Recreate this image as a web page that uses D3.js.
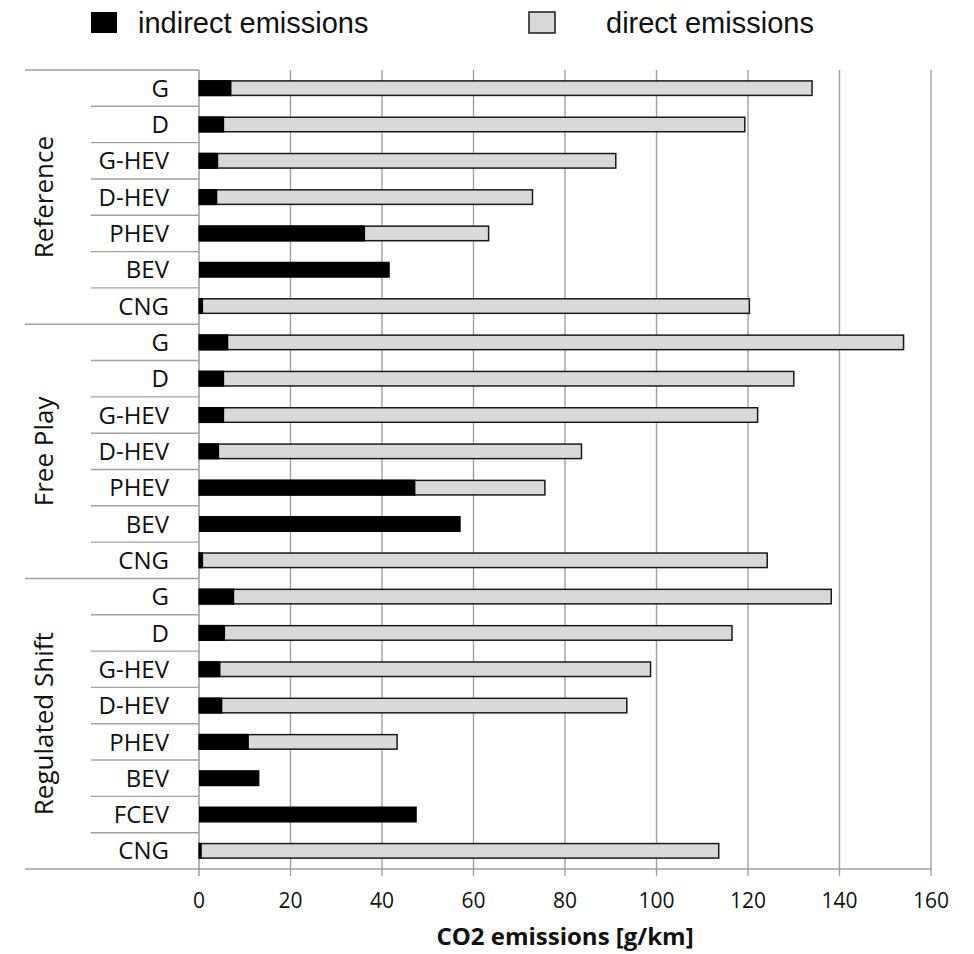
<!DOCTYPE html>
<html>
<head>
<meta charset="utf-8">
<script src="https://cdn.jsdelivr.net/npm/d3@7"></script>
<style>
  body { margin: 0; background: #fff; }
  svg { display: block; }
  .cat { font-family: "Open Sans", sans-serif; font-size: 24px; fill: #111; }
  .grp { font-family: "Open Sans", sans-serif; font-size: 26px; fill: #111; }
  .tick-label { font-family: "Open Sans", sans-serif; font-size: 21px; fill: #111; }
  .axis-title { font-family: "Open Sans", sans-serif; font-size: 24px; font-weight: bold; fill: #111; }
  .legend-text { font-family: "Liberation Sans", Arial, sans-serif; font-size: 29px; fill: #111; }
</style>
</head>
<body>
<div id="chart"></div>
<script>
// scenarios and vehicles (top to bottom)
const groups = ["Reference", "Free Play", "Regulated Shift"];
const refVehicles = ["G", "D", "G-HEV", "D-HEV", "PHEV", "BEV", "CNG"];
const freeVehicles = ["G", "D", "G-HEV", "D-HEV", "PHEV", "BEV", "CNG"];
const regVehicles = ["G", "D", "G-HEV", "D-HEV", "PHEV", "BEV", "FCEV", "CNG"];

// indirect emissions, g/km
const refIndirect = [7.1, 5.5, 4.2, 4.0, 36.3, 41.7, 0.9];
const freeIndirect = [6.4, 5.5, 5.5, 4.4, 47.3, 57.2, 0.9];
const regIndirect = [7.7, 5.7, 4.7, 5.1, 10.9, 13.2, 47.6, 0.6];

// direct emissions, g/km
const refDirect = [126.9, 113.8, 86.9, 68.9, 27.0, 0, 119.4];
const freeDirect = [147.6, 124.5, 116.6, 79.2, 28.3, 0, 123.3];
const regDirect = [130.5, 110.8, 94.0, 88.4, 32.4, 0, 0, 113.0];

const xTicks = [0, 20, 40, 60, 80, 100, 120, 140, 160];

const width = 974, height = 954;
const margin = { top: 70, right: 43, bottom: 85, left: 199 };

const vehicleLists = [refVehicles, freeVehicles, regVehicles];
const indirectLists = [refIndirect, freeIndirect, regIndirect];
const directLists = [refDirect, freeDirect, regDirect];

// flat rows
const rows = [];
vehicleLists.forEach((list, g) => {
	list.forEach((v, i) => {
		rows.push({
			key: g + "-" + v,
			group: g,
			vehicle: v,
			first: i === 0,
			indirect: indirectLists[g][i],
			direct: directLists[g][i]
		});
	});
});

const svg = d3.select("#chart").append("svg")
	.attr("width", width)
	.attr("height", height);

const x = d3.scaleLinear()
	.domain([0, 160])
	.range([margin.left, width - margin.right]);

const y = d3.scaleBand()
	.domain(rows.map(d => d.key))
	.range([margin.top, height - margin.bottom])
	.paddingInner(0)
	.paddingOuter(0);

const plotBottom = height - margin.bottom;
const lineColor = "#a0a0a0";

// vertical grid lines + ticks below
svg.append("g")
	.selectAll("line")
	.data(xTicks.slice(1))
	.join("line")
	.attr("x1", d => x(d))
	.attr("x2", d => x(d))
	.attr("y1", margin.top)
	.attr("y2", plotBottom + 7)
	.attr("stroke", lineColor)
	.attr("stroke-width", 1.4);

// left axis line
svg.append("line")
	.attr("x1", x(0)).attr("x2", x(0))
	.attr("y1", margin.top).attr("y2", plotBottom + 7)
	.attr("stroke", lineColor)
	.attr("stroke-width", 1.6);

// row separators in the category area
const sepX = { long: 25, short: 91 };
svg.append("g")
	.selectAll("line")
	.data(rows)
	.join("line")
	.attr("x1", d => d.first ? sepX.long : sepX.short)
	.attr("x2", x(0))
	.attr("y1", d => y(d.key))
	.attr("y2", d => y(d.key))
	.attr("stroke", lineColor)
	.attr("stroke-width", 1.4);

// bottom line
svg.append("line")
	.attr("x1", sepX.long).attr("x2", x(160))
	.attr("y1", plotBottom).attr("y2", plotBottom)
	.attr("stroke", lineColor)
	.attr("stroke-width", 1.4);

// bars
const barH = y.bandwidth() * 0.4;
const bars = svg.append("g");

bars.selectAll(".direct")
	.data(rows.filter(d => d.direct > 0))
	.join("rect")
	.attr("class", "direct")
	.attr("x", d => x(0))
	.attr("y", d => y(d.key) + (y.bandwidth() - barH) / 2)
	.attr("width", d => x(d.indirect + d.direct) - x(0))
	.attr("height", barH)
	.attr("fill", "#d9d9d9")
	.attr("stroke", "#1a1a1a")
	.attr("stroke-width", 1.5);

bars.selectAll(".indirect")
	.data(rows)
	.join("rect")
	.attr("class", "indirect")
	.attr("x", d => x(0))
	.attr("y", d => y(d.key) + (y.bandwidth() - barH) / 2 - 0.75)
	.attr("width", d => x(d.indirect) - x(0))
	.attr("height", barH + 1.5)
	.attr("fill", "#000");

// vehicle labels
svg.append("g")
	.selectAll("text")
	.data(rows)
	.join("text")
	.attr("class", "cat")
	.attr("x", x(0) - 30)
	.attr("y", d => y(d.key) + y.bandwidth() / 2)
	.attr("dy", "0.36em")
	.attr("text-anchor", "end")
	.text(d => d.vehicle);

// scenario labels, rotated
svg.append("g")
	.selectAll("text")
	.data(groups)
	.join("text")
	.attr("class", "grp")
	.attr("transform", (g, i) => {
		const gr = rows.filter(d => d.group === i);
		const cy = (y(gr[0].key) + y(gr[gr.length - 1].key) + y.bandwidth()) / 2;
		return `translate(53, ${cy}) rotate(-90)`;
	})
	.attr("text-anchor", "middle")
	.text(d => d);

// x tick labels
svg.append("g")
	.selectAll("text")
	.data(xTicks)
	.join("text")
	.attr("class", "tick-label")
	.attr("x", d => x(d))
	.attr("y", plotBottom + 39)
	.attr("text-anchor", "middle")
	.text(d => d);

svg.append("text")
	.attr("class", "axis-title")
	.attr("x", (x(0) + x(160)) / 2)
	.attr("y", plotBottom + 76)
	.attr("text-anchor", "middle")
	.text("CO2 emissions [g/km]");

// legend
const legend = [
	{ label: "indirect emissions", fill: "#000", stroke: "none", sx: 91, tx: 138 },
	{ label: "direct emissions", fill: "#d9d9d9", stroke: "#1a1a1a", sx: 529, tx: 606 }
];
const lg = svg.append("g").selectAll("g").data(legend).join("g");
lg.append("rect")
	.attr("x", d => d.sx)
	.attr("y", 12)
	.attr("width", 26)
	.attr("height", 21)
	.attr("fill", d => d.fill)
	.attr("stroke", d => d.stroke)
	.attr("stroke-width", 1.5);
lg.append("text")
	.attr("class", "legend-text")
	.attr("x", d => d.tx)
	.attr("y", 33)
	.text(d => d.label);
</script>
</body>
</html>
